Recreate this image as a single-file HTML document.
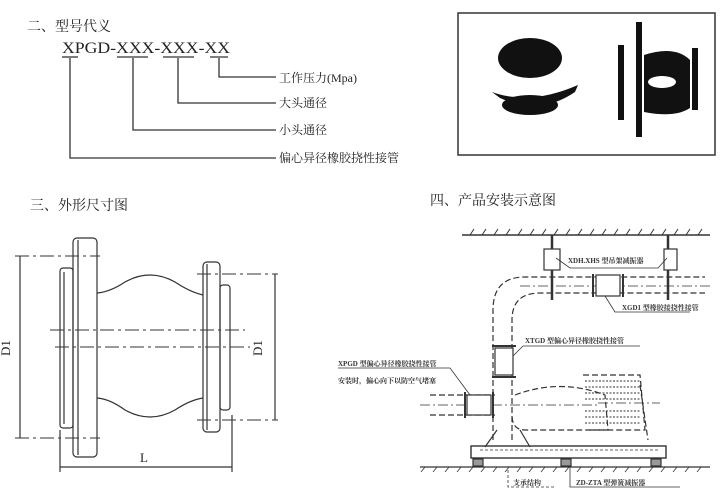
<!DOCTYPE html>
<html><head><meta charset="utf-8"><style>
html,body{margin:0;padding:0;background:#fff;}
svg{display:block;}
text{font-family:"Liberation Serif","Noto Serif CJK SC","Noto Sans CJK SC",serif;fill:#222;}
.s{font-size:7px;fill:#333;font-weight:bold;}
</style></head><body>
<svg width="725" height="499" viewBox="0 0 725 499" xmlns="http://www.w3.org/2000/svg">
<g stroke="#333" fill="none" stroke-width="1.3">
<line x1="62" y1="57" x2="78" y2="57"/><line x1="117" y1="57" x2="148" y2="57"/><line x1="163" y1="57" x2="194" y2="57"/><line x1="210" y1="57" x2="228" y2="57"/>
<polyline points="70,58 70,158 276,158"/>
<polyline points="133,58 133,130 276,130"/>
<polyline points="178,58 178,103 276,103"/>
<polyline points="219,58 219,77 276,77"/>
<rect x="458" y="13" width="257" height="142" stroke-width="1.5"/>
</g>
<text x="27" y="31" font-size="14">二、型号代义</text>
<text x="62" y="53" font-size="16" font-family="Liberation Serif" textLength="168" lengthAdjust="spacingAndGlyphs">XPGD-XXX-XXX-XX</text>
<text x="279" y="82" font-size="12">工作压力(Mpa)</text>
<text x="279" y="107" font-size="12">大头通径</text>
<text x="279" y="134" font-size="12">小头通径</text>
<text x="279" y="162" font-size="12">偏心异径橡胶挠性接管</text>
<!-- photo -->
<g fill="#111">
<ellipse cx="530" cy="58" rx="32" ry="20"/>
<path d="M492 92 Q530 106 578 85 L575 92 Q540 116 500 98 Z"/>
<ellipse cx="530" cy="105" rx="28" ry="10"/>
<rect x="636" y="22" width="6" height="115"/>
<path d="M644 55 Q675 45 690 60 L690 108 Q675 118 644 112 Z"/>
<rect x="618" y="45" width="6" height="75"/>
<rect x="692" y="48" width="6" height="62"/>
</g>
<ellipse cx="662" cy="82" rx="14" ry="6" fill="#fff"/>
<!-- Section 3 -->
<text x="30" y="210" font-size="14">三、外形尺寸图</text>
<g stroke="#333" fill="none" stroke-width="1.2">
<rect x="73" y="238" width="24" height="219" rx="4"/>
<line x1="78" y1="240" x2="78" y2="455"/>
<rect x="60" y="268" width="13" height="160" rx="3"/>
<line x1="64" y1="272" x2="64" y2="424"/>
<rect x="203" y="262" width="17" height="170" rx="4"/>
<line x1="207" y1="264" x2="207" y2="430"/>
<rect x="220" y="285" width="10" height="125" rx="3"/>
<path d="M97 293 Q110 292 125 282 Q150 268 175 282 Q190 292 203 295"/>
<path d="M97 398 Q110 399 125 410 Q150 424 175 410 Q190 400 203 398"/>
<g stroke-dasharray="14,4,3,4" stroke-width="1">
<line x1="50" y1="330" x2="245" y2="330"/>
<line x1="55" y1="347" x2="250" y2="347"/>
<line x1="15" y1="256" x2="100" y2="256"/>
<line x1="15" y1="438" x2="100" y2="438"/>
<line x1="197" y1="274" x2="278" y2="274"/>
<line x1="197" y1="420" x2="278" y2="420"/>
</g>
<line x1="20" y1="256" x2="20" y2="438"/>
<line x1="275" y1="274" x2="275" y2="420"/>
<line x1="60" y1="430" x2="60" y2="472"/>
<line x1="232" y1="415" x2="232" y2="472"/>
<line x1="60" y1="467" x2="232" y2="467"/>
</g>
<text x="10" y="348" font-size="13" transform="rotate(-90 10 348)" text-anchor="middle">D1</text>
<text x="262" y="348" font-size="13" transform="rotate(-90 262 348)" text-anchor="middle">D1</text>
<text x="140" y="462" font-size="13">L</text>
<!-- Section 4 -->
<text x="430" y="205" font-size="14">四、产品安装示意图</text>
<g stroke="#333" fill="none" stroke-width="1.2">
<line x1="462" y1="235" x2="710" y2="235" stroke-width="1.6"/>
<path d="M470 235 l4 -6 M482 235 l4 -6 M494 235 l4 -6 M506 235 l4 -6 M518 235 l4 -6 M530 235 l4 -6 M542 235 l4 -6 M554 235 l4 -6 M566 235 l4 -6 M578 235 l4 -6 M590 235 l4 -6 M602 235 l4 -6 M614 235 l4 -6 M626 235 l4 -6 M638 235 l4 -6 M650 235 l4 -6 M662 235 l4 -6 M674 235 l4 -6 M686 235 l4 -6 M698 235 l4 -6" stroke-width="1"/>
<line x1="552" y1="235" x2="552" y2="300" stroke-width="2.5"/>
<line x1="668" y1="235" x2="668" y2="300" stroke-width="2.5"/>
<rect x="544" y="249" width="16" height="21" fill="#fff"/>
<rect x="664" y="249" width="13" height="21" fill="#fff"/>
<polyline points="556,258 570,268 658,268 667,258" stroke-width="0.8"/>
<g stroke-dasharray="6,3">
<path d="M493 440 L493 310 Q493 277 525 277 L705 277"/>
<path d="M512 440 L512 320 Q512 293 540 293 L705 293"/>
<path d="M430 395 L495 395 M430 415 L495 415"/>
<path d="M515 395 Q560 378 605 395 L608 430 L525 430 Q512 430 512 415"/>
<path d="M583 375 L640 375 L645 430 L588 430"/>
<path d="M640 385 L648 440"/>
</g>
<path d="M520 286 L710 286 M420 405 L600 405 M598 403 L660 403" stroke-dasharray="10,3,2,3" stroke-width="0.8"/>
<rect x="596" y="275" width="24" height="21" fill="#fff"/>
<line x1="593" y1="274" x2="593" y2="297" stroke-width="2"/><line x1="623" y1="274" x2="623" y2="297" stroke-width="2"/>
<polyline points="605,296 615,312 690,312" stroke-width="0.8"/>
<rect x="495" y="348" width="18" height="27" fill="#fff"/>
<line x1="492" y1="346" x2="516" y2="346" stroke-width="2"/><line x1="492" y1="377" x2="516" y2="377" stroke-width="2"/>
<polyline points="513,356 523,346 640,346" stroke-width="0.8"/>
<rect x="467" y="395" width="24" height="20" fill="#fff"/>
<line x1="465" y1="392" x2="465" y2="418" stroke-width="2"/><line x1="493" y1="392" x2="493" y2="418" stroke-width="2"/>
<polyline points="338,368 450,368 470,395" stroke-width="0.8"/>
<g stroke-width="0.9" stroke-dasharray="2,1.5">
<line x1="585" y1="381" x2="640" y2="381"/><line x1="585" y1="387" x2="640" y2="387"/><line x1="585" y1="393" x2="640" y2="393"/><line x1="585" y1="399" x2="640" y2="399"/><line x1="585" y1="411" x2="640" y2="411"/><line x1="585" y1="417" x2="640" y2="417"/><line x1="585" y1="423" x2="640" y2="423"/>
</g>
<path d="M497 430 L485 447 M520 430 L530 447"/>
<rect x="471" y="446" width="195" height="12" stroke-width="1.4"/>
<line x1="480" y1="450" x2="660" y2="450" stroke-dasharray="3,2" stroke-width="0.8"/>
<rect x="473" y="459" width="10" height="7" fill="#999"/>
<rect x="561" y="459" width="10" height="7" fill="#999"/>
<rect x="651" y="459" width="10" height="7" fill="#999"/>
<line x1="420" y1="467" x2="710" y2="467"/>
<path d="M425 467 l-4 5 M437 467 l-4 5 M449 467 l-4 5 M461 467 l-4 5 M473 467 l-4 5 M485 467 l-4 5 M497 467 l-4 5 M509 467 l-4 5 M521 467 l-4 5 M533 467 l-4 5 M545 467 l-4 5 M557 467 l-4 5 M569 467 l-4 5 M581 467 l-4 5 M593 467 l-4 5 M605 467 l-4 5 M617 467 l-4 5 M629 467 l-4 5 M641 467 l-4 5 M653 467 l-4 5 M665 467 l-4 5 M677 467 l-4 5 M689 467 l-4 5 M701 467 l-4 5" stroke-width="0.8"/>
<polyline points="508,470 508,487 555,487" stroke-width="0.8" stroke-dasharray="3,2"/>
<polyline points="570,466 570,487 680,487" stroke-width="0.8"/>
</g>
<text x="568" y="263" class="s">XDH.XHS 型吊架减振器</text>
<text x="622" y="310" class="s">XGD1 型橡胶接挠性接管</text>
<text x="525" y="343" class="s">XTGD 型偏心异径橡胶挠性接管</text>
<text x="338" y="366" class="s">XPGD 型偏心异径橡胶挠性接管</text>
<text x="338" y="383" class="s">安装时，偏心向下以防空气堵塞</text>
<text x="513" y="485" class="s">支承结构</text>
<text x="576" y="485" class="s">ZD-ZTA 型弹簧减振器</text>
</svg>
</body></html>
